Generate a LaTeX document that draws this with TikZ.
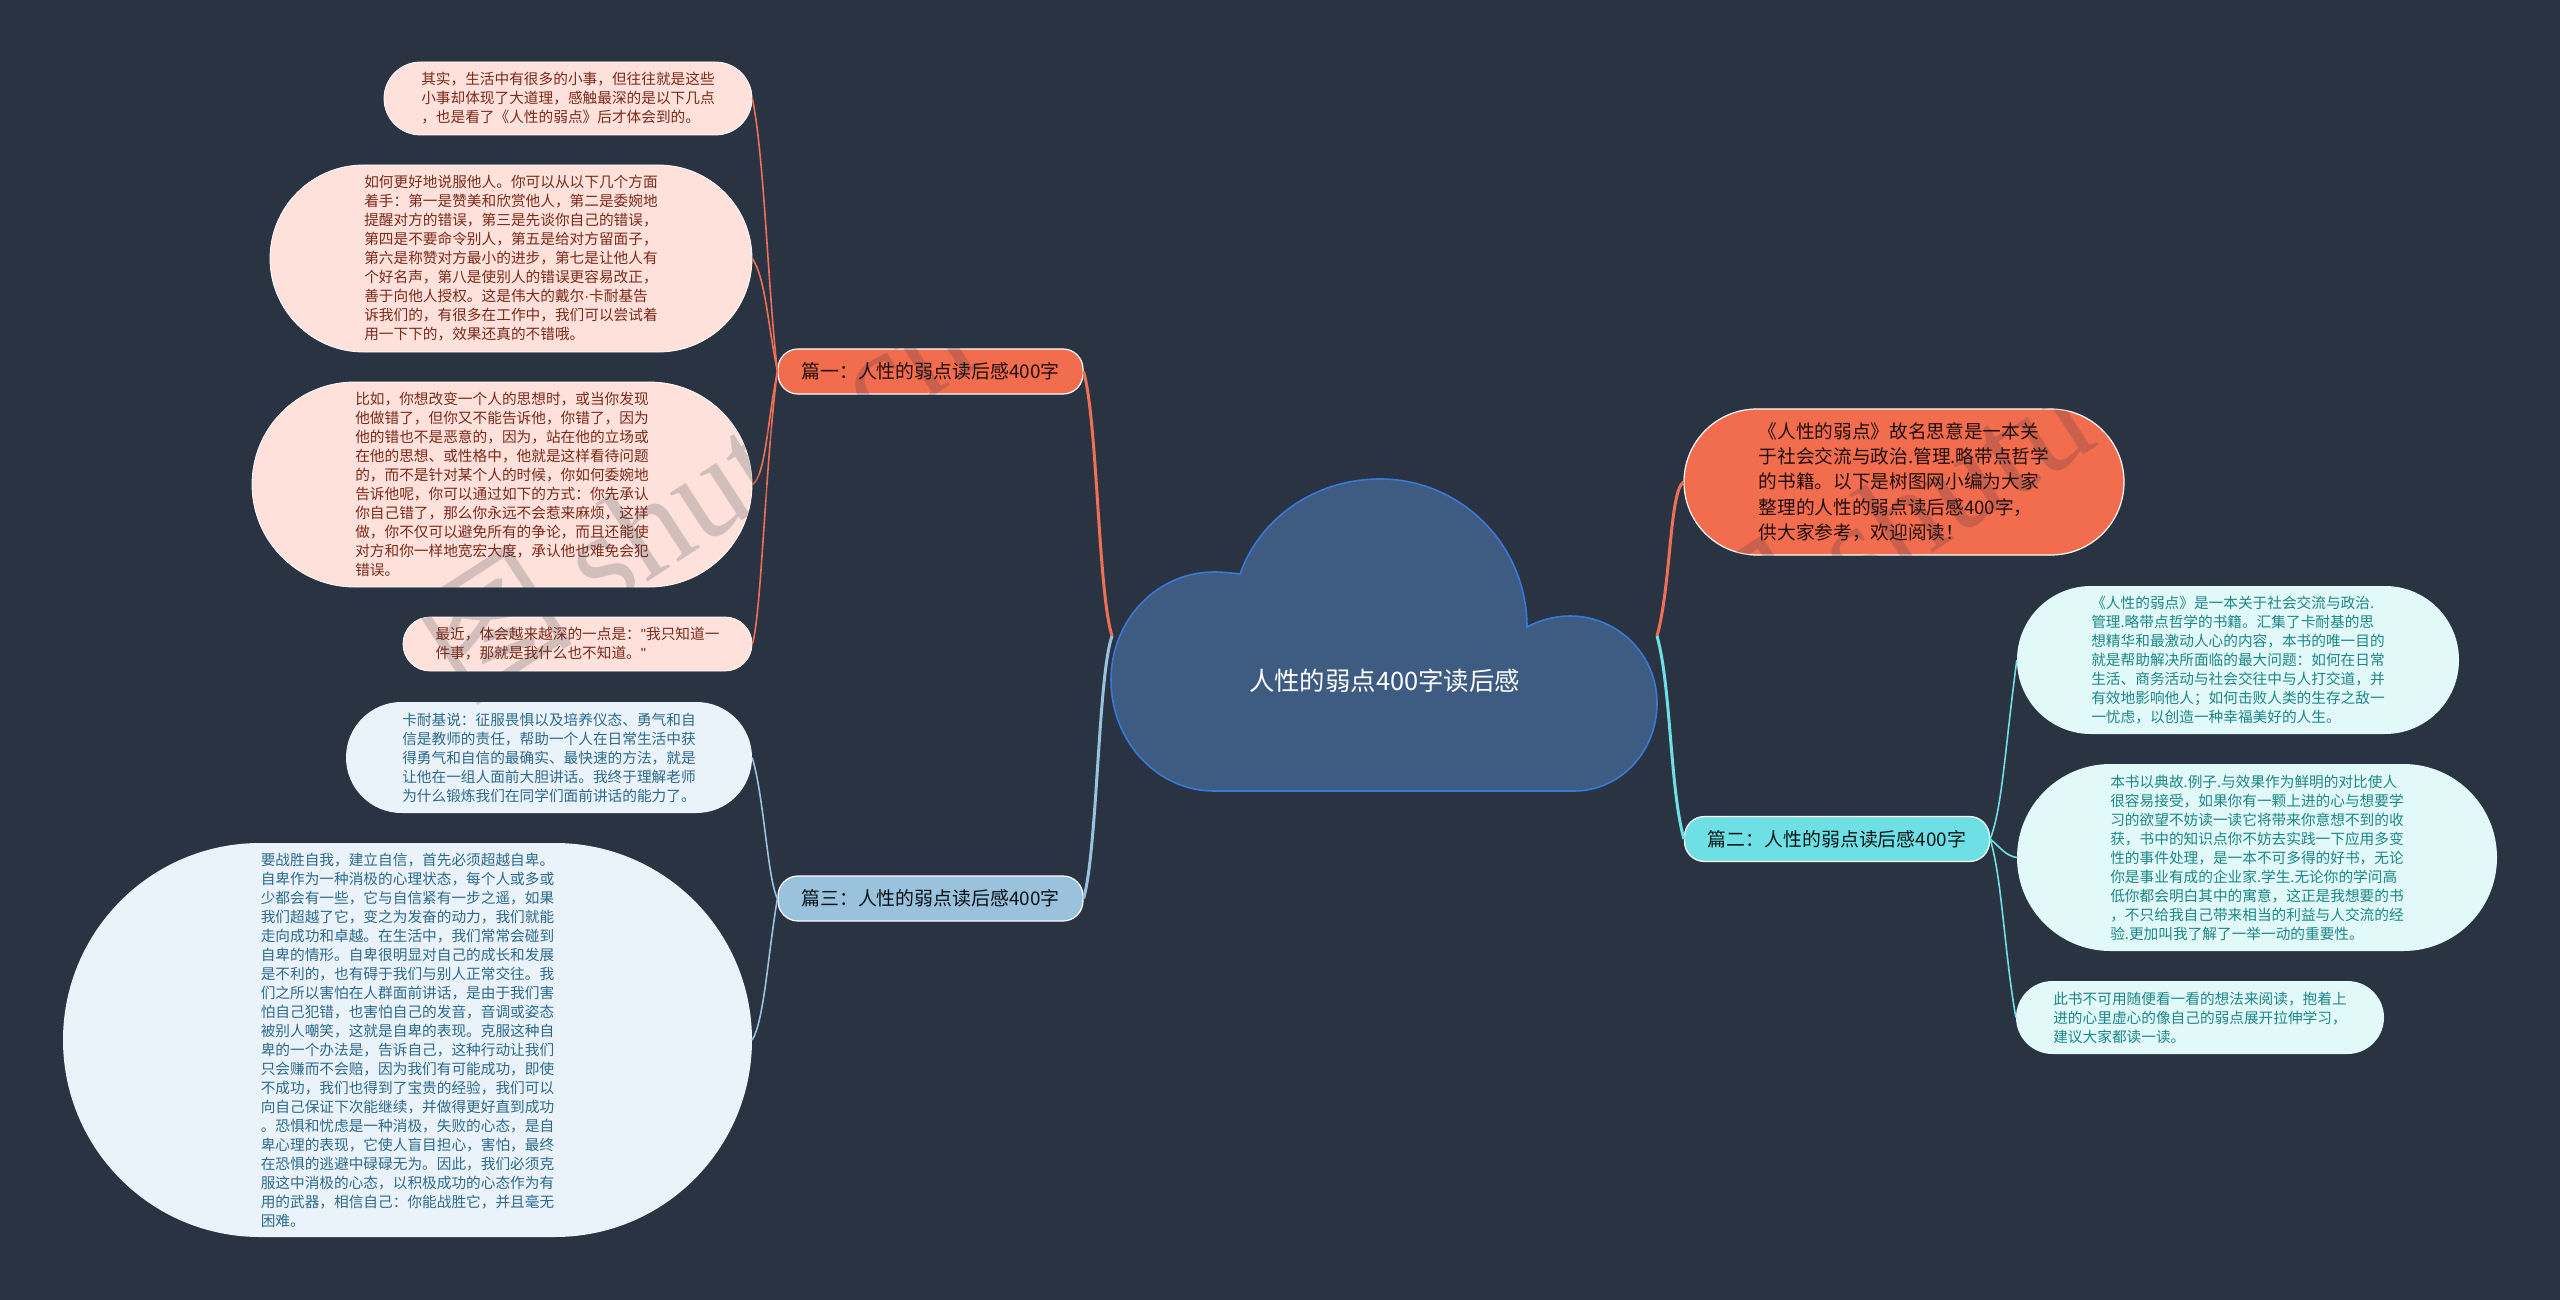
\documentclass[tikz,border=0pt]{standalone}
\usepackage{fontspec}
\setmainfont{Noto Sans CJK SC}
\newfontfamily\markfont{Liberation Serif}
\newfontfamily\signfont{Liberation Sans}
\definecolor{bgdark}{HTML}{2A3342}
\definecolor{fireorange}{HTML}{F26C4E}
\definecolor{firelink}{HTML}{EE7056}
\definecolor{firepale}{HTML}{FDE1DA}
\definecolor{firetext}{HTML}{7C2A1B}
\definecolor{skyblue}{HTML}{9AC2DC}
\definecolor{skypale}{HTML}{E9F3F9}
\definecolor{skytext}{HTML}{2F6A8E}
\definecolor{aquablue}{HTML}{6EE0E5}
\definecolor{aquapale}{HTML}{E1F9F9}
\definecolor{aquatext}{HTML}{1E8688}
\definecolor{cloudfill}{HTML}{3E5B82}
\definecolor{cloudline}{HTML}{3A78D6}
\tikzset{
  pill/.style 2 args={minimum width=#1,minimum height=#2,rounded corners=.5*#2,inner sep=0pt,align=left},
  leaftext/.style={font=\fontsize{14.67}{19}\selectfont},
  fireleaf/.style={leaftext,fill=firepale,draw=white,line width=.8pt,text=firetext},
  skyleaf/.style={leaftext,fill=skypale,text=skytext},
  aqualeaf/.style={leaftext,fill=aquapale,text=aquatext},
  branch/.style={minimum width=305,minimum height=45,rounded corners=20,inner sep=0pt,
    draw=white,line width=1.2pt,font=\fontsize{18.9}{25}\selectfont,text=#1},
  mainlink/.style={line width=3pt,#1},
  leaflink/.style={line width=1.6pt,#1},
  watermark/.style={rotate=33,text=bgdark,text opacity=.2,font=\fontsize{135}{135}\selectfont}
}
\begin{document}
\begin{tikzpicture}[x=1pt,y=-1pt]
\fill [bgdark] (0,0) rectangle (2560,1300);
\useasboundingbox (0,0) rectangle (2560,1300);
\node [pill={368}{73},fireleaf] (leafa) at (568,98.5) {其实，生活中有很多的小事，但往往就是这些\\小事却体现了大道理，感触最深的是以下几点\\，也是看了《人性的弱点》后才体会到的。};
\node [pill={482}{187},fireleaf] (leafb) at (511,258.5) {如何更好地说服他人。你可以从以下几个方面\\着手：第一是赞美和欣赏他人，第二是委婉地\\提醒对方的错误，第三是先谈你自己的错误，\\第四是不要命令别人，第五是给对方留面子，\\第六是称赞对方最小的进步，第七是让他人有\\个好名声，第八是使别人的错误更容易改正，\\善于向他人授权。这是伟大的戴尔{\signfont ·}卡耐基告\\诉我们的，有很多在工作中，我们可以尝试着\\用一下下的，效果还真的不错哦。};
\node [pill={500}{205},fireleaf] (leafc) at (502,484.5) {比如，你想改变一个人的思想时，或当你发现\\他做错了，但你又不能告诉他，你错了，因为\\他的错也不是恶意的，因为，站在他的立场或\\在他的思想、或性格中，他就是这样看待问题\\的，而不是针对某个人的时候，你如何委婉地\\告诉他呢，你可以通过如下的方式：你先承认\\你自己错了，那么你永远不会惹来麻烦，这样\\做，你不仅可以避免所有的争论，而且还能使\\对方和你一样地宽宏大度，承认他也难免会犯\\错误。};
\node [pill={349}{54},fireleaf] (leafd) at (577.5,644) {最近，体会越来越深的一点是：{\signfont"}我只知道一\\件事，那就是我什么也不知道。{\signfont"}};
\node [pill={406}{111},skyleaf] (leafe) at (549,757.5) {卡耐基说：征服畏惧以及培养仪态、勇气和自\\信是教师的责任，帮助一个人在日常生活中获\\得勇气和自信的最确实、最快速的方法，就是\\让他在一组人面前大胆讲话。我终于理解老师\\为什么锻炼我们在同学们面前讲话的能力了。};
\node [pill={689}{394},skyleaf] (leaff) at (407.5,1040) {要战胜自我，建立自信，首先必须超越自卑。\\自卑作为一种消极的心理状态，每个人或多或\\少都会有一些，它与自信紧有一步之遥，如果\\我们超越了它，变之为发奋的动力，我们就能\\走向成功和卓越。在生活中，我们常常会碰到\\自卑的情形。自卑很明显对自己的成长和发展\\是不利的，也有碍于我们与别人正常交往。我\\们之所以害怕在人群面前讲话，是由于我们害\\怕自己犯错，也害怕自己的发音，音调或姿态\\被别人嘲笑，这就是自卑的表现。克服这种自\\卑的一个办法是，告诉自己，这种行动让我们\\只会赚而不会赔，因为我们有可能成功，即使\\不成功，我们也得到了宝贵的经验，我们可以\\向自己保证下次能继续，并做得更好直到成功\\。恐惧和忧虑是一种消极，失败的心态，是自\\卑心理的表现，它使人盲目担心，害怕，最终\\在恐惧的逃避中碌碌无为。因此，我们必须克\\服这中消极的心态，以积极成功的心态作为有\\用的武器，相信自己：你能战胜它，并且毫无\\困难。};
\node [pill={440}{146},fill=fireorange,draw=white,line width=1.2pt,text=black!75!firetext,font=\fontsize{18.67}{25.3}\selectfont] (intro) at (1904,482) {《人性的弱点》故名思意是一本关\\于社会交流与政治.管理.略带点哲学\\的书籍。以下是树图网小编为大家\\整理的人性的弱点读后感400字，\\供大家参考，欢迎阅读！};
\node [pill={442}{148},aqualeaf] (leafg) at (2238,660) {《人性的弱点》是一本关于社会交流与政治.\\管理.略带点哲学的书籍。汇集了卡耐基的思\\想精华和最激动人心的内容，本书的唯一目的\\就是帮助解决所面临的最大问题：如何在日常\\生活、商务活动与社会交往中与人打交道，并\\有效地影响他人；如何击败人类的生存之敌一\\一忧虑，以创造一种幸福美好的人生。};
\node [pill={480}{187},aqualeaf] (leafh) at (2257,857.5) {本书以典故.例子.与效果作为鲜明的对比使人\\很容易接受，如果你有一颗上进的心与想要学\\习的欲望不妨读一读它将带来你意想不到的收\\获，书中的知识点你不妨去实践一下应用多变\\性的事件处理，是一本不可多得的好书，无论\\你是事业有成的企业家.学生.无论你的学问高\\低你都会明白其中的寓意，这正是我想要的书\\，不只给我自己带来相当的利益与人交流的经\\验.更加叫我了解了一举一动的重要性。};
\node [pill={368}{73},aqualeaf] (leafi) at (2200,1017.5) {此书不可用随便看一看的想法来阅读，抱着上\\进的心里虚心的像自己的弱点展开拉伸学习，\\建议大家都读一读。};
\node [branch=black!75!firetext,fill=fireorange] (parta) at (930.5,371.5) {篇一：人性的弱点读后感400字};
\node [branch=black!85!skytext,fill=skyblue] (partc) at (930.5,898.5) {篇三：人性的弱点读后感400字};
\node [branch=black!85!aquatext,fill=aquablue] (partb) at (1837,839) {篇二：人性的弱点读后感400字};
\coordinate (coreleft) at (1112,636);
\coordinate (coreright) at (1657,636);
\draw [leaflink=firelink] (leafa.east) .. controls +(12,60) and +(-10,-90) .. (parta.west);
\draw [leaflink=firelink] (leafb.east) .. controls +(13,20) and +(-10,-50) .. (parta.west);
\draw [leaflink=firelink] (leafc.east) .. controls +(13,-8) and +(-10,50) .. (parta.west);
\draw [leaflink=firelink] (leafd.east) .. controls +(9,-30) and +(-12,90) .. (parta.west);
\draw [leaflink=skyblue] (leafe.east) .. controls +(12,40) and +(-10,-20) .. (partc.west);
\draw [leaflink=skyblue] (leaff.east) .. controls +(12,-20) and +(-10,60) .. (partc.west);
\draw [leaflink=aquablue] (partb.east) .. controls +(12,-30) and +(-12,90) .. (leafg.west);
\draw [leaflink=aquablue] (partb.east) .. controls +(10,8) and +(-12,-2) .. (leafh.west);
\draw [leaflink=aquablue] (partb.east) .. controls +(12,40) and +(-12,-70) .. (leafi.west);
\draw [mainlink=firelink] (parta.east) .. controls +(14,50) and +(-14,-45) .. (coreleft);
\draw [mainlink=skyblue] (partc.east) .. controls +(14,-50) and +(-14,40) .. (coreleft);
\draw [mainlink=firelink] (intro.west) .. controls +(-14,10) and +(14,-50) .. (coreright);
\draw [mainlink=aquablue] (partb.west) .. controls +(-14,-50) and +(14,50) .. (coreright);
\node [watermark] (markleft) at (696,493) {图 {\markfont shutu.cn}};
\node [watermark] (markright) at (1950,484) {图 {\markfont shutu.cn}};
\draw [fill=cloudfill,draw=cloudline,line width=1.6pt] (1214,791) .. controls (1157,791) and (1111,741) .. (1111,680) .. controls (1111,620) and (1157,572) .. (1214,572) .. controls (1223,572) and (1232,573) .. (1240,574) .. controls (1260,518) and (1315,479) .. (1380,479) .. controls (1461,479) and (1527,545) .. (1527,627) .. controls (1540,620) and (1555,616) .. (1570,616) .. controls (1618,616) and (1657,655) .. (1657,703) .. controls (1657,752) and (1620,791) .. (1574,791) -- cycle;
\node [text=white,font=\fontsize{25.4}{30}\selectfont] (core) at (1384.5,681) {人性的弱点400字读后感};
\end{tikzpicture}
\end{document}
